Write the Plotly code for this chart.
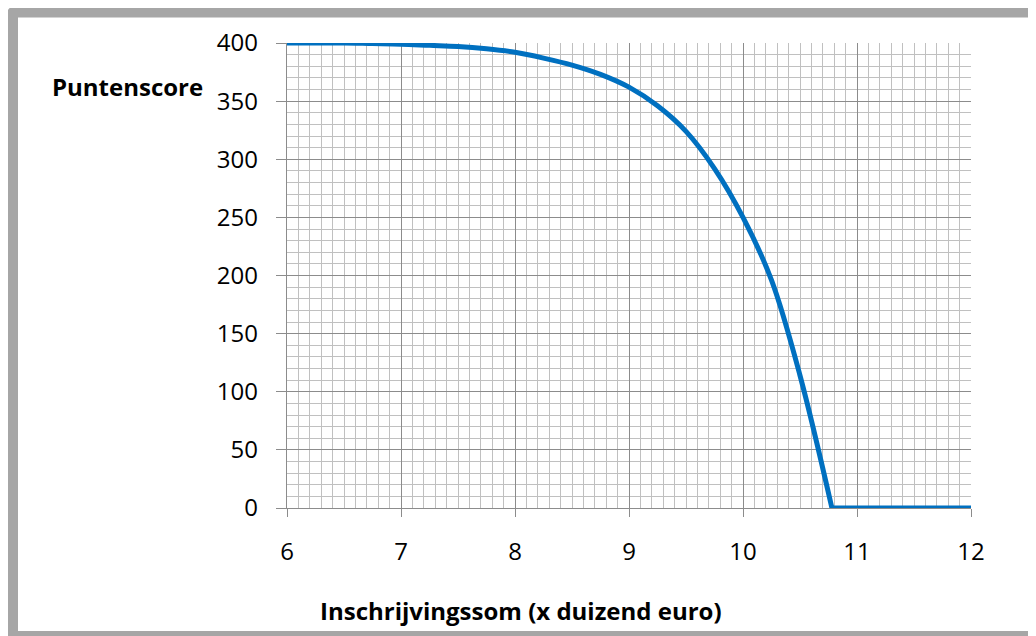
import plotly.graph_objects as go

# Data
bedrag = [6.0, 6.25, 6.5, 6.75, 7.0, 7.25, 7.5, 7.75, 8.0, 8.25, 8.5, 8.75,
          9.0, 9.25, 9.5, 9.75, 10.0, 10.25, 10.5, 10.78]
score = [400, 400, 400, 399.5, 399, 398, 397, 395, 392, 387, 381, 373,
         362, 346, 324, 292, 250, 196, 114, 0]
bedrag_nul = [10.78, 12.0]
score_nul = [0, 0]

x_ticks = [6, 7, 8, 9, 10, 11, 12]
y_ticks = [0, 50, 100, 150, 200, 250, 300, 350, 400]

# page offset of the figure (body margin) is compensated
OFF = 8
W, H = 1036 - OFF, 636 - OFF
L, R, T, B = 287 - OFF, 65, 43 - OFF, 128
PW, PH = W - L - R, H - T - B

def px(xp):
    return (xp - OFF - L) / PW

def py(yp):
    return (H - B - (yp - OFF)) / PH

fig = go.Figure()
fig.add_trace(go.Scatter(
    x=bedrag, y=score, mode="lines",
    line=dict(color="#0070C0", width=5, shape="spline", smoothing=1.0),
    hoverinfo="skip", showlegend=False,
))
fig.add_trace(go.Scatter(
    x=bedrag_nul, y=score_nul, mode="lines",
    line=dict(color="#0070C0", width=5),
    hoverinfo="skip", showlegend=False,
))

font_main = "Open Sans, Liberation Sans, sans-serif"
grid_major = "#8c8c8c"
grid_minor = "#c0c0c0"

fig.update_xaxes(
    range=[6, 12], tickvals=x_ticks, ticktext=[str(v) for v in x_ticks],
    showgrid=True, gridcolor=grid_major, gridwidth=1.4,
    minor=dict(dtick=0.1, tick0=6, showgrid=True, gridcolor=grid_minor, gridwidth=1.4),
    showline=True, linecolor=grid_major, linewidth=1.4,
    ticks="outside", ticklen=8, tickcolor=grid_major, tickwidth=1.4,
    tickfont=dict(family=font_main, size=24, color="#000"),
    zeroline=False, fixedrange=True, ticklabelstandoff=14,
)
fig.update_yaxes(
    range=[0, 400], tickvals=y_ticks, ticktext=[str(v) for v in y_ticks],
    showgrid=True, gridcolor=grid_major, gridwidth=1.4,
    minor=dict(dtick=10, tick0=0, showgrid=True, gridcolor=grid_minor, gridwidth=1.4),
    showline=True, linecolor=grid_major, linewidth=1.4,
    ticks="outside", ticklen=10, tickcolor=grid_major, tickwidth=1.4,
    tickfont=dict(family=font_main, size=24, color="#000"),
    zeroline=False, fixedrange=True, ticklabelstandoff=13,
)

# Outer grey frame (slightly rounded top-left corner, cropped on right & bottom)
x0, y0 = px(12.5), py(12)
x1, y1 = px(1060), py(636.5)
r = 2
path = (f"M {x0},{y1} L {x0},{py(12 + r)} Q {x0},{y0} {px(12.5 + r)},{y0} "
        f"L {x1},{y0} L {x1},{y1} Z")
fig.add_shape(type="path", path=path, xref="paper", yref="paper",
              line=dict(color="#A6A6A6", width=11), fillcolor="rgba(0,0,0,0)", layer="above")

fig.add_annotation(text="<b>Puntenscore</b>", xref="paper", yref="paper",
                   x=px(127), y=py(86), showarrow=False,
                   font=dict(family=font_main, size=24, color="#000"),
                   xanchor="center", yanchor="middle")
fig.add_annotation(text="<b>Inschrijvingssom (x duizend euro)</b>", xref="paper", yref="paper",
                   x=px(521), y=py(610), showarrow=False,
                   font=dict(family=font_main, size=24, color="#000"),
                   xanchor="center", yanchor="middle")

fig.update_layout(
    width=W, height=H,
    margin=dict(l=L, r=R, t=T, b=B, pad=0),
    paper_bgcolor="white", plot_bgcolor="white",
    showlegend=False,
)

fig.write_html("out.html", config={"displayModeBar": False})
